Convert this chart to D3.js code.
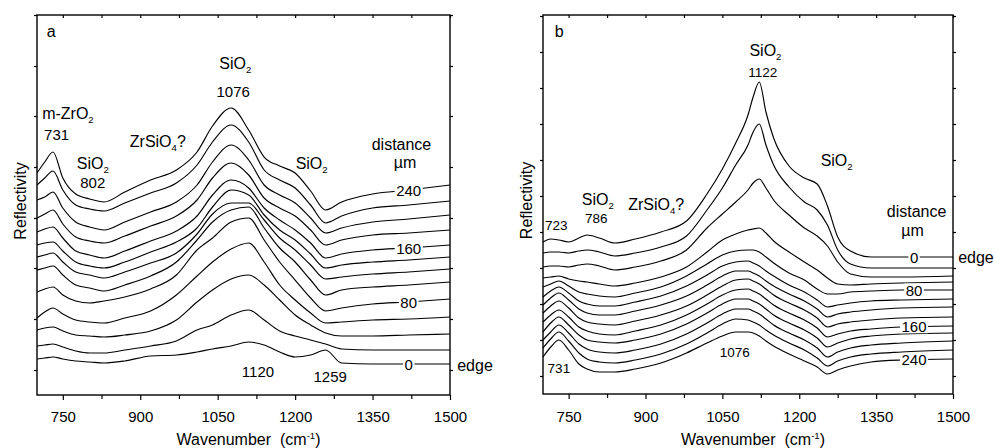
<!DOCTYPE html>
<html>
<head>
<meta charset="utf-8">
<script src="https://cdn.jsdelivr.net/npm/d3@7"></script>
<style>
  body { margin: 0; background: #fff; }
  text { font-family: "Liberation Sans", Arial, Helvetica, sans-serif; fill: #000; }
</style>
</head>
<body>
<svg id="chart" width="995" height="448"></svg>
<script>
// ---- data: panel a (offset reflectivity spectra, a.u.) ----
const wnA = [700, 715, 731, 750, 775, 802, 830, 870, 920, 970, 1010, 1040, 1076, 1110, 1140, 1170, 1200, 1230, 1259, 1290, 1350, 1420, 1500];
const distA = [240, 220, 200, 180, 160, 140, 120, 100, 80, 60, 40, 20, 0];
const specA = [
  [222,233,243,217,201,196,193,203,215,225,243,269,287,265,238,229,222,204,185,193,201,205,210],
  [210,217,224,205,190,186,184,192,202,212,230,253,270,253,225,215,207,190,172,179,187,190,194],
  [195,198,203,187,173,168,165,173,183,193,210,233,250,235,210,200,192,177,162,167,173,176,180],
  [177,181,185,171,158,154,152,159,169,179,195,217,232,220,197,187,179,165,150,155,160,162,165],
  [163,166,168,157,144,140,137,144,154,164,179,200,215,207,187,175,165,152,137,141,145,147,150],
  [150,152,153,144,133,129,127,133,143,153,167,188,205,200,180,165,155,141,127,130,133,135,138],
  [138,140,142,133,123,120,117,123,132,142,161,181,192,192,175,157,145,130,116,118,121,123,126],
  [125,127,129,120,110,107,104,110,119,133,155,173,185,188,167,147,133,115,100,105,108,110,113],
  [103,106,108,100, 94, 92, 94, 98,106,120,145,157,173,177,155,133,115, 97, 84, 87, 91, 93, 96],
  [ 77, 83, 87, 81, 75, 73, 72, 77, 84,100,119,133,146,152,133,110, 95, 82, 72, 73, 75, 76, 78],
  [ 65, 67, 68, 64, 60, 59, 58, 60, 64, 75, 93,105,116,120,110, 95, 80, 70, 62, 59, 59, 60, 61],
  [ 49, 50, 51, 48, 44, 42, 42, 45, 49, 54, 65, 70, 80, 85, 75, 64, 59, 55, 51, 46, 45, 45, 45],
  [ 36, 37, 38, 36, 34, 33, 32, 34, 39, 40, 43, 46, 49, 53, 50, 43, 38, 40, 45, 32, 31, 31, 31]
];
const labelledA = [240, 160, 80, 0];
const yTicksA = [25, 76, 127, 177, 228, 279, 329, 380];

// ---- data: panel b ----
const wnB = [700, 715, 731, 750, 770, 786, 810, 840, 880, 930, 980, 1020, 1050, 1076, 1100, 1110, 1122, 1135, 1150, 1180, 1210, 1235, 1255, 1275, 1300, 1340, 1400, 1500];
const distB = [0, 20, 40, 60, 80, 100, 120, 140, 160, 180, 200, 220, 240];
const specB = [
  [152,155,154,152,156,159,156,151,155,162,173,200,225,251,279,297,312,282,256,228,216,210,188,157,143,137,137,137],
  [141,142,142,141,143,144,142,138,141,147,158,184,206,229,249,262,270,249,229,207,192,184,169,144,130,126,126,126],
  [127,128,128,127,129,130,128,124,127,133,144,166,180,192,204,211,215,206,194,179,166,158,148,132,120,117,117,118],
  [116,117,118,115,113,112,110,108,111,117,127,142,154,160,164,165,166,161,153,142,132,124,116,110,109,110,111,112],
  [107,110,113,108,102,100, 98, 97,101,107,118,130,139,143,144,144,142,137,131,121,114,105,100,100,102,103,104,104],
  [ 97,103,107,101, 93, 90, 88, 88, 92, 98,108,119,128,132,133,131,128,123,118,109,102, 94, 87, 89, 91, 93, 94, 95],
  [ 89, 96,101, 94, 85, 81, 79, 79, 83, 89, 98,109,118,123,123,121,118,113,108,100, 93, 85, 77, 80, 82, 84, 86, 87],
  [ 81, 88, 93, 86, 76, 72, 70, 69, 73, 79, 88, 99,108,114,115,113,110,105, 99, 91, 84, 76, 67, 70, 72, 74, 76, 77],
  [ 72, 79, 84, 77, 67, 63, 60, 59, 63, 69, 79, 90, 99,104,105,103,100, 95, 89, 81, 74, 66, 57, 60, 63, 65, 67, 68],
  [ 62, 71, 77, 69, 59, 54, 52, 51, 54, 60, 70, 81, 90, 95, 95, 93, 90, 85, 79, 71, 64, 56, 47, 51, 55, 58, 60, 61],
  [ 54, 62, 69, 61, 50, 45, 42, 41, 44, 50, 60, 71, 80, 85, 85, 83, 80, 75, 69, 61, 54, 46, 37, 42, 46, 49, 51, 53],
  [ 46, 55, 62, 53, 41, 35, 32, 31, 34, 40, 50, 61, 70, 75, 74, 72, 69, 64, 59, 51, 44, 36, 28, 33, 37, 40, 42, 44],
  [ 37, 47, 54, 44, 30, 25, 22, 22, 25, 31, 41, 51, 58, 62, 62, 61, 58, 53, 48, 40, 33, 27, 20, 24, 28, 32, 34, 35]
];
const labelledB = [0, 80, 160, 240];
const yTicksB = [18, 54, 90, 126, 162, 198, 234, 270, 306, 342, 378];

const xMajor = [750, 900, 1050, 1200, 1350, 1500];
const xMinor = [825, 975, 1125, 1275, 1425];

const svg = d3.select("#chart");

// text with sub/superscript pieces: [["SiO"],["2","sub"]]
function richText(g, x, y, parts, size, anchor) {
  const t = g.append("text").attr("x", x).attr("y", y)
    .attr("text-anchor", anchor || "middle").style("font-size", size + "px");
  let shift = 0;
  parts.forEach(p => {
    const kind = p[1] || "";
    let target = kind === "sub" ? 4 : kind === "sup" ? -6 : 0;
    t.append("tspan").attr("dy", target - shift)
      .style("font-size", (kind ? size * 0.6 : size) + "px").text(p[0]);
    shift = target;
  });
  return t;
}

// linear read of a spectrum at wavenumber w (used to place line labels)
function valueAt(wn, s, w) {
  const i = Math.min(d3.bisectLeft(wn, w), wn.length - 1);
  if (i === 0) return s[0];
  const t = (w - wn[i - 1]) / (wn[i] - wn[i - 1]);
  return s[i - 1] + t * (s[i] - s[i - 1]);
}

function drawPanel(p) {
  const x = d3.scaleLinear().domain([700, 1500]).range([p.left, p.right]);
  const y = d3.scaleLinear().domain([0, p.bottom - p.top]).range([p.bottom, p.top]);
  const g = svg.append("g");

  const line = d3.line()
    .x((d, i) => x(p.wn[i]))
    .y(d => y(d))
    .curve(d3.curveMonotoneX);

  g.append("g").selectAll("path")
    .data(p.spectra)
    .join("path")
    .attr("d", line)
    .attr("fill", "none")
    .attr("stroke", "#000")
    .attr("stroke-width", 1.15);

  // distance labels sitting on the lines
  p.labelled.forEach(d => {
    const s = p.spectra[p.dist.indexOf(d)];
    const t = g.append("text")
      .attr("x", x(p.labelX)).attr("y", y(valueAt(p.wn, s, p.labelX)) + 5.5)
      .attr("text-anchor", "middle").style("font-size", "15px").text(d);
    const bb = t.node().getBBox();
    g.insert("rect", () => t.node())
      .attr("x", bb.x - 1.5).attr("y", bb.y + 2).attr("width", bb.width + 3).attr("height", bb.height - 4)
      .attr("fill", "#fff");
  });

  // axes
  const bottomMajor = g.append("g").attr("transform", `translate(0,${p.bottom})`)
    .call(d3.axisBottom(x).tickValues(xMajor).tickSize(5).tickFormat(d3.format("d")));
  bottomMajor.selectAll("text").attr("y", 422 - p.bottom).attr("dy", null).style("font-size", "15px");
  g.append("g").attr("transform", `translate(0,${p.bottom})`)
    .call(d3.axisBottom(x).tickValues(xMinor).tickSize(4).tickFormat(""));
  g.append("g").attr("transform", `translate(0,${p.top})`)
    .call(d3.axisTop(x).tickValues(xMajor.concat(xMinor)).tickSize(-3).tickFormat(""));
  g.append("g").attr("transform", `translate(${p.left},0)`)
    .call(d3.axisLeft(y).tickValues(p.yTicks).tickSize(3).tickFormat(""));
  g.append("g").attr("transform", `translate(${p.right},0)`)
    .call(d3.axisRight(y).tickValues(p.yTicks).tickSize(3).tickFormat(""));
  g.selectAll(".domain").remove();
  g.selectAll(".tick line").attr("stroke", "#000").attr("stroke-width", 1.2);

  g.append("rect")
    .attr("x", p.left).attr("y", p.top)
    .attr("width", p.right - p.left).attr("height", p.bottom - p.top)
    .attr("fill", "none").attr("stroke", "#000").attr("stroke-width", 1.4);

  // axis titles
  g.append("text")
    .attr("transform", `translate(${p.left - 11},${(p.top + p.bottom) / 2 - 4}) rotate(-90)`)
    .attr("text-anchor", "middle").style("font-size", "16px").text("Reflectivity");
  richText(g, (p.left + p.right) / 2 + 5, 445,
    [["Wavenumber\u00a0\u00a0(cm"], ["-1", "sup"], [")"]], 16, "middle");

  // annotations, placed in data coordinates
  p.notes.forEach(n => richText(g, x(n.w), y(n.h), n.parts, n.size || 16, n.anchor));
}

drawPanel({
  left: 37, right: 450, top: 15, bottom: 395,
  wn: wnA, spectra: specA, dist: distA, labelled: labelledA, labelX: 1420, yTicks: yTicksA,
  notes: [
    { w: 719, h: 358, parts: [["a"]], anchor: "start" },
    { w: 1084, h: 326, parts: [["SiO"], ["2", "sub"]] },
    { w: 1080, h: 298, parts: [["1076"]], size: 15 },
    { w: 710, h: 276, parts: [["m-ZrO"], ["2", "sub"]], anchor: "start" },
    { w: 738, h: 255, parts: [["731"]], size: 15 },
    { w: 934, h: 248, parts: [["ZrSiO"], ["4", "sub"], ["?"]] },
    { w: 808, h: 226, parts: [["SiO"], ["2", "sub"]] },
    { w: 808, h: 207, parts: [["802"]], size: 15 },
    { w: 1232, h: 226, parts: [["SiO"], ["2", "sub"]] },
    { w: 1406, h: 245, parts: [["distance"]] },
    { w: 1413, h: 227, parts: [["\u00b5m"]] },
    { w: 1128, h: 18, parts: [["1120"]], size: 15 },
    { w: 1268, h: 13, parts: [["1259"]], size: 15 },
    { w: 1514, h: 24, parts: [["edge"]], anchor: "start" }
  ]
});

drawPanel({
  left: 543, right: 953, top: 15, bottom: 394,
  wn: wnB, spectra: specB, dist: distB, labelled: labelledB, labelX: 1424, yTicks: yTicksB,
  notes: [
    { w: 723, h: 357, parts: [["b"]], anchor: "start" },
    { w: 1134, h: 338, parts: [["SiO"], ["2", "sub"]] },
    { w: 1129, h: 317, parts: [["1122"]], size: 13.5 },
    { w: 1273, h: 228, parts: [["SiO"], ["2", "sub"]] },
    { w: 1429, h: 177, parts: [["distance"]] },
    { w: 1421, h: 158, parts: [["\u00b5m"]] },
    { w: 1510, h: 131, parts: [["edge"]], anchor: "start" },
    { w: 1074, h: 37, parts: [["1076"]], size: 13.5 },
    { w: 726, h: 164, parts: [["723"]], size: 13.5 },
    { w: 807, h: 189, parts: [["SiO"], ["2", "sub"]] },
    { w: 804, h: 171, parts: [["786"]], size: 13.5 },
    { w: 921, h: 184, parts: [["ZrSiO"], ["4", "sub"], ["?"]] },
    { w: 731, h: 21, parts: [["731"]], size: 13.5 }
  ]
});
</script>
</body>
</html>
